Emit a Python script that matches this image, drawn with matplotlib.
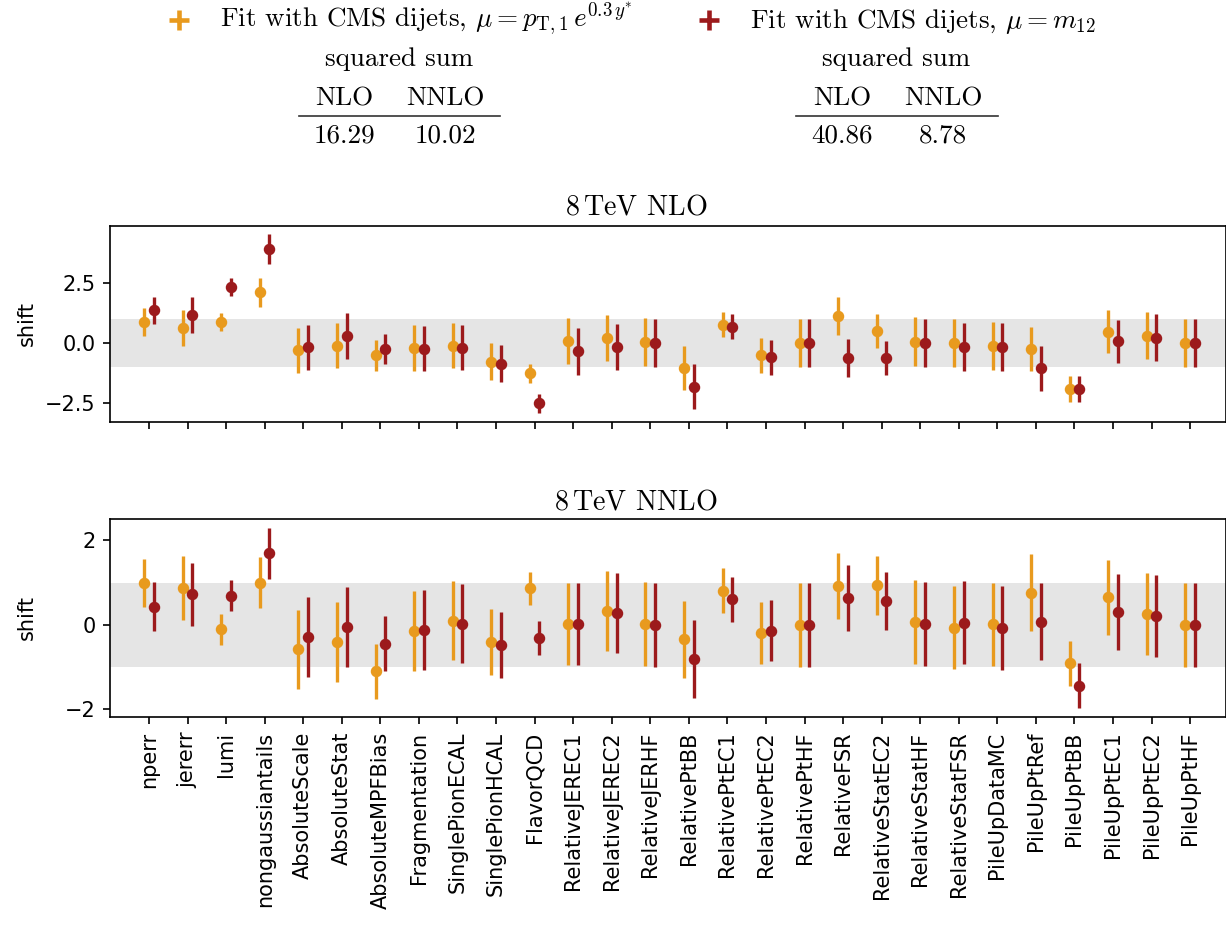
import numpy as np
import matplotlib
matplotlib.use("Agg")
import matplotlib.pyplot as plt
from matplotlib.lines import Line2D

plt.rcParams["mathtext.fontset"] = "cm"

# Nuisance parameter names
sources = [
    "nperr", "jererr", "lumi", "nongaussiantails", "AbsoluteScale", "AbsoluteStat",
    "AbsoluteMPFBias", "Fragmentation", "SinglePionECAL", "SinglePionHCAL", "FlavorQCD",
    "RelativeJEREC1", "RelativeJEREC2", "RelativeJERHF", "RelativePtBB", "RelativePtEC1",
    "RelativePtEC2", "RelativePtHF", "RelativeFSR", "RelativeStatEC2", "RelativeStatHF",
    "RelativeStatFSR", "PileUpDataMC", "PileUpPtRef", "PileUpPtBB", "PileUpPtEC1",
    "PileUpPtEC2", "PileUpPtHF",
]

# NLO fit, scale mu = pT,1 exp(0.3 y*)
nlo_pt_shift = [0.87, 0.61, 0.87, 2.10, -0.30, -0.11, -0.51, -0.21, -0.11, -0.77, -1.26,
                0.08, 0.21, 0.04, -1.05, 0.76, -0.52, -0.01, 1.12, 0.50, 0.06, 0.00,
                -0.12, -0.26, -1.91, 0.47, 0.30, -0.01]
nlo_pt_err = [0.57, 0.74, 0.36, 0.61, 0.94, 0.95, 0.65, 0.94, 0.94, 0.77, 0.40,
              0.97, 0.95, 1.00, 0.92, 0.53, 0.72, 1.00, 0.79, 0.70, 1.00, 0.99,
              0.99, 0.92, 0.54, 0.90, 0.97, 1.00]
# NLO fit, scale mu = m12
nlo_m_shift = [1.35, 1.16, 2.33, 3.90, -0.18, 0.28, -0.25, -0.23, -0.19, -0.86, -2.51,
               -0.35, -0.17, 0.01, -1.82, 0.68, -0.59, 0.00, -0.62, -0.62, 0.00, -0.17,
               -0.18, -1.05, -1.93, 0.07, 0.22, -0.01]
nlo_m_err = [0.57, 0.75, 0.37, 0.61, 0.94, 0.95, 0.64, 0.95, 0.94, 0.78, 0.39,
             0.97, 0.95, 1.00, 0.93, 0.53, 0.73, 1.00, 0.78, 0.70, 1.00, 0.99,
             1.00, 0.93, 0.54, 0.90, 0.98, 1.00]

# NNLO fit, scale mu = pT,1 exp(0.3 y*)
nnlo_pt_shift = [1.00, 0.87, -0.11, 1.00, -0.59, -0.41, -1.11, -0.14, 0.09, -0.41, 0.86,
                 0.02, 0.33, 0.02, -0.35, 0.81, -0.20, -0.01, 0.91, 0.93, 0.07, -0.07,
                 0.01, 0.76, -0.92, 0.65, 0.25, 0.00]
nnlo_pt_err = [0.57, 0.76, 0.37, 0.61, 0.94, 0.95, 0.66, 0.95, 0.94, 0.78, 0.40,
               0.98, 0.95, 1.00, 0.92, 0.53, 0.73, 1.00, 0.78, 0.69, 1.00, 0.98,
               0.99, 0.91, 0.53, 0.89, 0.98, 1.00]
# NNLO fit, scale mu = m12
nnlo_m_shift = [0.43, 0.72, 0.69, 1.69, -0.29, -0.06, -0.45, -0.13, 0.02, -0.49, -0.31,
                0.01, 0.28, -0.01, -0.82, 0.60, -0.14, -0.01, 0.64, 0.57, 0.02, 0.05,
                -0.08, 0.07, -1.45, 0.30, 0.21, 0.00]
nnlo_m_err = [0.58, 0.75, 0.37, 0.61, 0.95, 0.95, 0.65, 0.95, 0.94, 0.78, 0.40,
              0.98, 0.95, 1.00, 0.92, 0.54, 0.73, 1.00, 0.78, 0.69, 1.00, 0.98,
              1.00, 0.92, 0.53, 0.90, 0.98, 1.00]

# Sum of squared shifts per fit
sq_sum_pt = ["16.29", "10.02"]
sq_sum_m = ["40.86", "8.78"]

c_pt = "#E89A1E"
c_m = "#9C1A1C"
band = "#e5e5e5"
serif = "cmr10"

W, H, DPI = 1226, 929, 150
fig = plt.figure(figsize=(W / DPI, H / DPI), dpi=DPI)


def fx(px):
    return px / W


def fy(py):
    return 1 - py / H


x = np.arange(len(sources))
left, right = 110.4, 1226.0

ax1 = fig.add_axes([fx(left), fy(421.7), fx(right - left), fy(225.5) - fy(421.7)])
ax2 = fig.add_axes([fx(left), fy(717.0), fx(right - left), fy(518.8) - fy(717.0)],
                   sharex=ax1)

panels = [
    (ax1, nlo_pt_shift, nlo_pt_err, nlo_m_shift, nlo_m_err, [-2.5, 0.0, 2.5]),
    (ax2, nnlo_pt_shift, nnlo_pt_err, nnlo_m_shift, nnlo_m_err, [-2, 0, 2]),
]
for ax, s1, e1, s2, e2, yt in panels:
    ax.axhspan(-1, 1, color=band, lw=0, zorder=0)
    ax.errorbar(x - 0.125, s1, yerr=e1, fmt="o", color=c_pt, ms=4.5,
                elinewidth=1.6, capsize=0, zorder=2)
    ax.errorbar(x + 0.125, s2, yerr=e2, fmt="o", color=c_m, ms=4.5,
                elinewidth=1.6, capsize=0, zorder=3)
    ax.set_yticks(yt)
    ax.set_ylabel("shift", fontsize=10)
    ax.tick_params(labelsize=10)

ax1.set_xlim(-1.0, 27.93)
ax1.set_xticks(x)
ax1.tick_params(axis="x", labelbottom=False)
ax2.set_xticks(x)
ax2.set_xticklabels(sources, rotation=90)
ax1.yaxis.set_label_coords(-0.066, 0.5)
ax2.yaxis.set_label_coords(-0.066, 0.5)

# Panel titles
fig.text(fx(636), fy(214.3), r"$8\,$TeV NLO", ha="center", va="baseline",
         family=serif, fontsize=13.5)
fig.text(fx(636), fy(509.3), r"$8\,$TeV NNLO", ha="center", va="baseline",
         family=serif, fontsize=13.5)

# Legend entries
legend_items = [
    (179.3, 220.0, c_pt, r"Fit with CMS dijets, $\mu = p_{\mathrm{T},1}\,e^{0.3\,y^{*}}$"),
    (709.3, 750.0, c_m, r"Fit with CMS dijets, $\mu = m_{12}$"),
]
for mx, tx, col, label in legend_items:
    fig.add_artist(Line2D([fx(mx)], [fy(20.0)], transform=fig.transFigure,
                          marker="+", ms=10, mew=2.2, color=col, ls=""))
    fig.text(fx(tx), fy(27.5), label, ha="left", va="baseline",
             family=serif, fontsize=13)

# Squared-sum tables
tables = [
    (399.5, 344.7, 445.0, 299.0, 500.0, sq_sum_pt),
    (896.5, 842.3, 943.2, 796.0, 997.7, sq_sum_m),
]
for cx, c1, c2, l0, l1, vals in tables:
    fig.text(fx(cx), fy(66.0), "squared sum", ha="center", va="baseline",
             family=serif, fontsize=13)
    fig.text(fx(c1), fy(105.0), "NLO", ha="center", va="baseline",
             family=serif, fontsize=13)
    fig.text(fx(c2), fy(105.0), "NNLO", ha="center", va="baseline",
             family=serif, fontsize=13)
    fig.add_artist(Line2D([fx(l0), fx(l1)], [fy(115.7), fy(115.7)],
                          transform=fig.transFigure, color="#333333", lw=0.8))
    fig.text(fx(c1), fy(142.7), vals[0], ha="center", va="baseline",
             family=serif, fontsize=13)
    fig.text(fx(c2), fy(142.7), vals[1], ha="center", va="baseline",
             family=serif, fontsize=13)

fig.savefig("out.png", dpi=DPI)
